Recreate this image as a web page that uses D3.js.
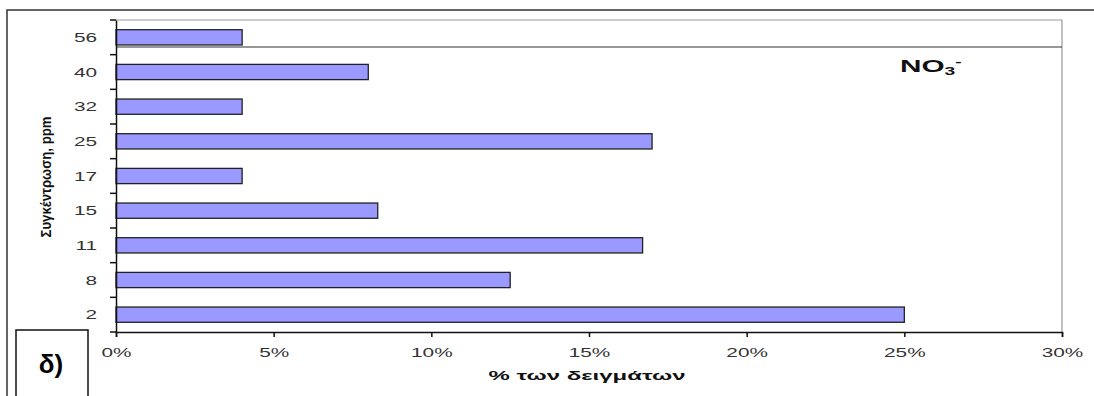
<!DOCTYPE html>
<html>
<head>
<meta charset="utf-8">
<script src="https://cdn.jsdelivr.net/npm/d3@7"></script>
<style>
  body { margin: 0; background: #fff; }
  svg { display: block; font-family: "Liberation Sans", Arial, sans-serif; }
</style>
</head>
<body>
<div id="chart"></div>
<script>
// data
var categories = ["56", "40", "32", "25", "17", "15", "11", "8", "2"];
var percents = [4, 8, 4, 17, 4, 8.3, 16.7, 12.5, 25];
var xTicks = [0, 5, 10, 15, 20, 25, 30];

var width = 1094, height = 396;
var plotLeft = 116, plotRight = 1062, plotTop = 20, plotBottom = 332;
var stretch = 1.6; // the old chart text is wide, stretch it sideways

var svg = d3.select("#chart").append("svg")
  .attr("width", width)
  .attr("height", height);

// outer frame of the pasted picture
svg.append("path")
  .attr("d", "M7,400 L7,10 L1094,10")
  .attr("fill", "none")
  .attr("stroke", "#333")
  .attr("stroke-width", 1.5);

var x = d3.scaleLinear().domain([0, 30]).range([plotLeft, plotRight]);
var y = d3.scaleBand().domain(categories).range([plotTop, plotBottom]).paddingInner(0.56).paddingOuter(0.28);

// plot area border (top + right)
svg.append("path")
  .attr("d", "M" + plotLeft + "," + plotTop + " L" + plotRight + "," + plotTop + " L" + plotRight + "," + plotBottom)
  .attr("fill", "none")
  .attr("stroke", "#999")
  .attr("stroke-width", 1.2);

// odd line under the first bar
svg.append("line")
  .attr("x1", plotLeft).attr("x2", plotRight)
  .attr("y1", 47).attr("y2", 47)
  .attr("stroke", "#333").attr("stroke-width", 1.2);

// bars
svg.selectAll("rect.bar")
  .data(percents)
  .enter()
  .append("rect")
  .attr("class", "bar")
  .attr("x", x(0))
  .attr("y", (d, i) => y(categories[i]))
  .attr("width", d => x(d) - x(0))
  .attr("height", y.bandwidth())
  .style("fill", "#9999ff")
  .style("stroke", "#222")
  .style("stroke-width", 1.3);

// x axis
var xAxis = svg.append("g")
  .attr("transform", "translate(0," + plotBottom + ")")
  .call(d3.axisBottom(x).tickValues(xTicks).tickSize(5).tickFormat(d => d + "%"));
xAxis.select(".domain").attr("stroke", "#111").attr("stroke-width", 1.5);
xAxis.selectAll(".tick line").attr("stroke", "#111").attr("stroke-width", 1.5);
xAxis.selectAll(".tick text")
  .attr("y", 25).attr("dy", 0)
  .attr("font-size", 13)
  .attr("fill", "#333")
  .attr("text-anchor", "middle")
  .attr("transform", "scale(" + stretch + ",1)");

// y axis: labels in band centres, tick marks at band edges
var yAxis = svg.append("g")
  .attr("transform", "translate(" + plotLeft + ",0)")
  .call(d3.axisLeft(y).tickSize(0));
yAxis.select(".domain").attr("stroke", "#111").attr("stroke-width", 1.5);
yAxis.selectAll(".tick text")
  .attr("x", -19 / stretch)
  .attr("dy", "0.35em")
  .attr("font-size", 13)
  .attr("fill", "#333")
  .attr("transform", "scale(" + stretch + ",1)");

var edges = d3.range(categories.length + 1).map(i => plotTop + i * (plotBottom - plotTop) / categories.length);
svg.selectAll("line.ytick")
  .data(edges)
  .enter()
  .append("line")
  .attr("class", "ytick")
  .attr("x1", plotLeft - 6).attr("x2", plotLeft)
  .attr("y1", d => d).attr("y2", d => d)
  .attr("stroke", "#111").attr("stroke-width", 1.5);

// axis titles
svg.append("text")
  .attr("x", 587).attr("y", 380)
  .attr("text-anchor", "middle")
  .attr("font-size", 12)
  .attr("font-weight", "bold")
  .attr("fill", "#111")
  .attr("textLength", 197)
  .attr("lengthAdjust", "spacingAndGlyphs")
  .text("% των δειγμάτων");

svg.append("text")
  .attr("transform", "translate(51,177) rotate(-90)")
  .attr("text-anchor", "middle")
  .attr("font-size", 15)
  .attr("font-weight", "bold")
  .attr("fill", "#111")
  .attr("textLength", 121)
  .attr("lengthAdjust", "spacingAndGlyphs")
  .text("Συγκέντρωση, ppm");

// NO3- label
var ion = svg.append("text")
  .attr("transform", "translate(900,72) scale(1.75,1)")
  .attr("font-size", 17)
  .attr("font-weight", "bold")
  .attr("fill", "#111");
ion.append("tspan").text("NO");
ion.append("tspan").attr("font-size", 11).attr("dy", 3).text("3");
ion.append("tspan").attr("font-size", 11).attr("dy", -10).text("-");

// panel letter box
svg.append("rect")
  .attr("x", 16).attr("y", 330)
  .attr("width", 72).attr("height", 80)
  .attr("fill", "#fff")
  .attr("stroke", "#111")
  .attr("stroke-width", 1.5);
svg.append("text")
  .attr("x", 51).attr("y", 373)
  .attr("text-anchor", "middle")
  .attr("font-size", 26)
  .attr("font-weight", "bold")
  .attr("fill", "#000")
  .text("δ)");
</script>
</body>
</html>
